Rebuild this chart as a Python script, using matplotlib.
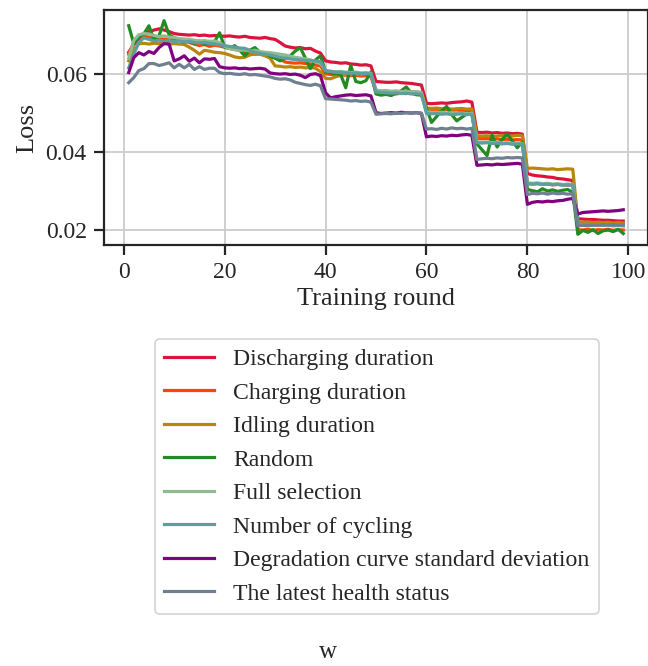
import matplotlib
matplotlib.use("Agg")
import matplotlib.pyplot as plt

rounds = list(range(1, 100))

labels = ["Discharging duration", "Charging duration", "Idling duration", "Random",
          "Full selection", "Number of cycling", "Degradation curve standard deviation",
          "The latest health status"]
colors = ["#DC143C", "#FF4500", "#B8860B", "#228B22", "#8FBC8F", "#5F9EA0", "#800080", "#708090"]

discharging = [
    0.0655, 0.0675, 0.0690, 0.0703, 0.0708, 0.0712, 0.0715, 0.0712, 0.0708,
    0.0703, 0.0701, 0.0700, 0.0699, 0.0700, 0.0698, 0.0699, 0.0697, 0.0698, 0.0697,
    0.0696, 0.0697, 0.0695, 0.0694, 0.0696, 0.0693, 0.0692, 0.0691, 0.0693, 0.0690,
    0.0688, 0.0680, 0.0671, 0.0668, 0.0666, 0.0667, 0.0664, 0.0665, 0.0658, 0.0653,
    0.0633, 0.0630, 0.0629, 0.0627, 0.0628, 0.0625, 0.0624, 0.0622, 0.0623, 0.0620,
    0.0580, 0.0579, 0.0578, 0.0578, 0.0579, 0.0577, 0.0576, 0.0575, 0.0573, 0.0571,
    0.0524, 0.0523, 0.0524, 0.0525, 0.0524, 0.0526, 0.0527, 0.0528, 0.0530, 0.0527,
    0.0450, 0.0449, 0.0450, 0.0448, 0.0449, 0.0447, 0.0448, 0.0446, 0.0447, 0.0445,
    0.0344, 0.0340, 0.0338, 0.0337, 0.0335, 0.0334, 0.0331, 0.0330, 0.0328, 0.0326,
    0.0228, 0.0227, 0.0226, 0.0226, 0.0225, 0.0224, 0.0224, 0.0223, 0.0222, 0.0222]

charging = [
    0.0650, 0.0680, 0.0695, 0.0698, 0.0693, 0.0690, 0.0692, 0.0688, 0.0690,
    0.0688, 0.0686, 0.0684, 0.0680, 0.0676, 0.0672, 0.0675, 0.0670, 0.0673, 0.0671,
    0.0668, 0.0665, 0.0662, 0.0660, 0.0655, 0.0652, 0.0650, 0.0651, 0.0648, 0.0646,
    0.0640, 0.0637, 0.0630, 0.0628, 0.0627, 0.0628, 0.0626, 0.0625, 0.0622, 0.0620,
    0.0600, 0.0598, 0.0597, 0.0598, 0.0596, 0.0595, 0.0596, 0.0594, 0.0595, 0.0593,
    0.0553, 0.0550, 0.0549, 0.0551, 0.0548, 0.0550, 0.0549, 0.0551, 0.0550, 0.0548,
    0.0510, 0.0508, 0.0509, 0.0507, 0.0508, 0.0506, 0.0507, 0.0505, 0.0506, 0.0504,
    0.0435, 0.0433, 0.0434, 0.0432, 0.0433, 0.0431, 0.0432, 0.0430, 0.0431, 0.0430,
    0.0318, 0.0317, 0.0318, 0.0316, 0.0317, 0.0315, 0.0316, 0.0315, 0.0314, 0.0315,
    0.0200, 0.0199, 0.0201, 0.0198, 0.0200, 0.0199, 0.0201, 0.0198, 0.0200, 0.0199]

idling = [
    0.0633, 0.0660, 0.0677, 0.0678, 0.0676, 0.0678, 0.0677, 0.0679, 0.0676,
    0.0677, 0.0676, 0.0675, 0.0668, 0.0660, 0.0650, 0.0660, 0.0658, 0.0655, 0.0654,
    0.0652, 0.0648, 0.0643, 0.0641, 0.0642, 0.0648, 0.0651, 0.0650, 0.0646, 0.0640,
    0.0620, 0.0619, 0.0617, 0.0618, 0.0616, 0.0617, 0.0615, 0.0616, 0.0614, 0.0605,
    0.0588, 0.0587, 0.0592, 0.0596, 0.0598, 0.0597, 0.0599, 0.0598, 0.0600, 0.0598,
    0.0558, 0.0555, 0.0553, 0.0552, 0.0554, 0.0553, 0.0552, 0.0554, 0.0553, 0.0551,
    0.0512, 0.0511, 0.0512, 0.0510, 0.0511, 0.0509, 0.0510, 0.0511, 0.0509, 0.0510,
    0.0441, 0.0440, 0.0441, 0.0439, 0.0440, 0.0442, 0.0441, 0.0440, 0.0442, 0.0441,
    0.0357, 0.0358, 0.0357, 0.0356, 0.0355, 0.0356, 0.0354, 0.0355, 0.0356, 0.0355,
    0.0220, 0.0219, 0.0220, 0.0218, 0.0219, 0.0218, 0.0219, 0.0217, 0.0218, 0.0217]

random_sel = [
    0.0723, 0.0677, 0.0695, 0.0702, 0.0723, 0.0687, 0.0697, 0.0736, 0.0700,
    0.0692, 0.0688, 0.0680, 0.0685, 0.0677, 0.0684, 0.0675, 0.0679, 0.0682, 0.0705,
    0.0668, 0.0665, 0.0672, 0.0660, 0.0646, 0.0660, 0.0667, 0.0655, 0.0652, 0.0645,
    0.0640, 0.0633, 0.0640, 0.0646, 0.0658, 0.0667, 0.0640, 0.0613, 0.0635, 0.0646,
    0.0605, 0.0603, 0.0600, 0.0598, 0.0564, 0.0621, 0.0580, 0.0577, 0.0582, 0.0605,
    0.0548, 0.0545, 0.0547, 0.0544, 0.0550, 0.0556, 0.0566, 0.0550, 0.0546, 0.0545,
    0.0512, 0.0475, 0.0490, 0.0505, 0.0516, 0.0495, 0.0479, 0.0488, 0.0497, 0.0495,
    0.0420, 0.0405, 0.0390, 0.0442, 0.0412, 0.0432, 0.0445, 0.0428, 0.0410, 0.0425,
    0.0303, 0.0300, 0.0297, 0.0305, 0.0299, 0.0302, 0.0298, 0.0301, 0.0303, 0.0295,
    0.0188, 0.0198, 0.0193, 0.0200, 0.0190, 0.0197, 0.0199, 0.0195, 0.0201, 0.0190]

full_selection = [
    0.0640, 0.0685, 0.0700, 0.0703, 0.0702, 0.0698, 0.0695, 0.0697, 0.0694,
    0.0693, 0.0690, 0.0689, 0.0688, 0.0686, 0.0684, 0.0685, 0.0683, 0.0684, 0.0680,
    0.0670, 0.0664, 0.0662, 0.0660, 0.0661, 0.0658, 0.0660, 0.0657, 0.0655, 0.0654,
    0.0652, 0.0650, 0.0648, 0.0645, 0.0642, 0.0640, 0.0638, 0.0636, 0.0630, 0.0626,
    0.0608, 0.0606, 0.0605, 0.0606, 0.0604, 0.0603, 0.0604, 0.0602, 0.0603, 0.0601,
    0.0558, 0.0556, 0.0557, 0.0555, 0.0556, 0.0554, 0.0555, 0.0553, 0.0554, 0.0552,
    0.0502, 0.0501, 0.0500, 0.0501, 0.0499, 0.0500, 0.0498, 0.0499, 0.0497, 0.0498,
    0.0425, 0.0424, 0.0425, 0.0423, 0.0424, 0.0422, 0.0423, 0.0421, 0.0422, 0.0421,
    0.0320, 0.0319, 0.0320, 0.0318, 0.0319, 0.0317, 0.0318, 0.0316, 0.0317, 0.0316,
    0.0213, 0.0212, 0.0213, 0.0211, 0.0212, 0.0211, 0.0212, 0.0210, 0.0211, 0.0210]

num_cycling = [
    0.0615, 0.0650, 0.0680, 0.0692, 0.0688, 0.0684, 0.0686, 0.0683, 0.0685,
    0.0682, 0.0684, 0.0681, 0.0683, 0.0680, 0.0679, 0.0680, 0.0678, 0.0676, 0.0674,
    0.0672, 0.0670, 0.0668, 0.0666, 0.0665, 0.0660, 0.0655, 0.0652, 0.0650, 0.0648,
    0.0645, 0.0642, 0.0640, 0.0638, 0.0636, 0.0635, 0.0634, 0.0633, 0.0633, 0.0631,
    0.0608, 0.0606, 0.0604, 0.0603, 0.0602, 0.0601, 0.0602, 0.0600, 0.0601, 0.0599,
    0.0553, 0.0552, 0.0551, 0.0550, 0.0551, 0.0549, 0.0550, 0.0548, 0.0549, 0.0547,
    0.0498, 0.0497, 0.0498, 0.0496, 0.0497, 0.0495, 0.0496, 0.0497, 0.0495, 0.0496,
    0.0423, 0.0422, 0.0423, 0.0421, 0.0422, 0.0420, 0.0421, 0.0419, 0.0420, 0.0419,
    0.0318, 0.0317, 0.0318, 0.0316, 0.0317, 0.0315, 0.0316, 0.0314, 0.0315, 0.0314,
    0.0214, 0.0213, 0.0214, 0.0212, 0.0213, 0.0211, 0.0212, 0.0210, 0.0211, 0.0210]

degradation_std = [
    0.0603, 0.0641, 0.0654, 0.0648, 0.0657, 0.0652, 0.0667, 0.0677, 0.0676,
    0.0633, 0.0638, 0.0646, 0.0632, 0.0640, 0.0628, 0.0638, 0.0637, 0.0639, 0.0618,
    0.0615, 0.0614, 0.0615, 0.0613, 0.0614, 0.0612, 0.0613, 0.0614, 0.0612, 0.0602,
    0.0600, 0.0599, 0.0600, 0.0598, 0.0599, 0.0596, 0.0590, 0.0598, 0.0600, 0.0595,
    0.0551, 0.0538, 0.0541, 0.0543, 0.0545, 0.0546, 0.0544, 0.0545, 0.0546, 0.0543,
    0.0500, 0.0498, 0.0499, 0.0500, 0.0499, 0.0501, 0.0500, 0.0499, 0.0500, 0.0498,
    0.0438, 0.0440, 0.0439, 0.0441, 0.0440, 0.0442, 0.0441, 0.0443, 0.0444, 0.0442,
    0.0365, 0.0366, 0.0367, 0.0366, 0.0368, 0.0367, 0.0368, 0.0369, 0.0370, 0.0368,
    0.0265, 0.0270, 0.0272, 0.0271, 0.0273, 0.0272, 0.0274, 0.0275, 0.0278, 0.0280,
    0.0240, 0.0244, 0.0245, 0.0246, 0.0247, 0.0248, 0.0247, 0.0248, 0.0249, 0.0251]

latest_health = [
    0.0577, 0.0590, 0.0608, 0.0613, 0.0626, 0.0626, 0.0621, 0.0624, 0.0628,
    0.0615, 0.0624, 0.0615, 0.0624, 0.0611, 0.0618, 0.0611, 0.0614, 0.0614, 0.0603,
    0.0600, 0.0601, 0.0599, 0.0598, 0.0600, 0.0597, 0.0598, 0.0596, 0.0594, 0.0592,
    0.0588, 0.0586, 0.0587, 0.0584, 0.0578, 0.0575, 0.0572, 0.0570, 0.0573, 0.0569,
    0.0536, 0.0535, 0.0534, 0.0533, 0.0532, 0.0530, 0.0531, 0.0529, 0.0530, 0.0527,
    0.0496, 0.0497, 0.0498, 0.0497, 0.0499, 0.0498, 0.0500, 0.0499, 0.0500, 0.0499,
    0.0458, 0.0459, 0.0457, 0.0460, 0.0458, 0.0461, 0.0459, 0.0460, 0.0458, 0.0460,
    0.0380, 0.0382, 0.0383, 0.0382, 0.0384, 0.0383, 0.0385, 0.0384, 0.0385, 0.0384,
    0.0290, 0.0293, 0.0292, 0.0294, 0.0291, 0.0294, 0.0292, 0.0293, 0.0291, 0.0292,
    0.0210, 0.0211, 0.0210, 0.0212, 0.0211, 0.0213, 0.0212, 0.0213, 0.0212, 0.0213]

series = [discharging, charging, idling, random_sel, full_selection,
          num_cycling, degradation_std, latest_health]

plt.rcParams['font.family'] = ['Liberation Serif', 'DejaVu Serif']
plt.rcParams['font.size'] = 17
plt.rcParams['text.color'] = '#262626'
plt.rcParams['axes.labelcolor'] = '#262626'
plt.rcParams['xtick.color'] = '#262626'
plt.rcParams['ytick.color'] = '#262626'

fig = plt.figure(figsize=(6.48, 6.66), dpi=100)
ax = fig.add_axes([104 / 648, 1 - 245 / 666, 544 / 648, 235 / 666])

for lab, col, vals in zip(labels, colors, series):
    ax.plot(rounds, vals, color=col, lw=2.3, label=lab)

ax.set_xticks([0, 20, 40, 60, 80, 100])
ax.set_yticks([0.02, 0.04, 0.06])
ax.set_yticklabels(["0.02", "0.04", "0.06"])
ax.grid(True, color='#cccccc', lw=1.3)
ax.set_axisbelow(True)
for s in ax.spines.values():
    s.set_color('#262626')
    s.set_linewidth(1.6)
ax.tick_params(direction='out', length=7.5, width=1.6, labelsize=17, pad=5)
ax.set_xlabel("Training round", fontsize=19, labelpad=3)
ax.set_ylabel("Loss", fontsize=19, labelpad=5)

handles, labs = ax.get_legend_handles_labels()
leg = fig.legend(handles, labs, loc='upper center', bbox_to_anchor=(377 / 648, 1 - 339 / 666),
                 fontsize=17.1, frameon=True, fancybox=True, handlelength=2.1,
                 handletextpad=0.8, labelspacing=0.5, borderpad=0.4, borderaxespad=0)
leg.get_frame().set_edgecolor('#cccccc')
leg.get_frame().set_linewidth(1.3)
for l in leg.get_lines():
    l.set_linewidth(2.3)

fig.text(328 / 648, 1 - 652 / 666, "w", ha='center', va='center', fontsize=18)

fig.savefig("out.png", dpi=100)
